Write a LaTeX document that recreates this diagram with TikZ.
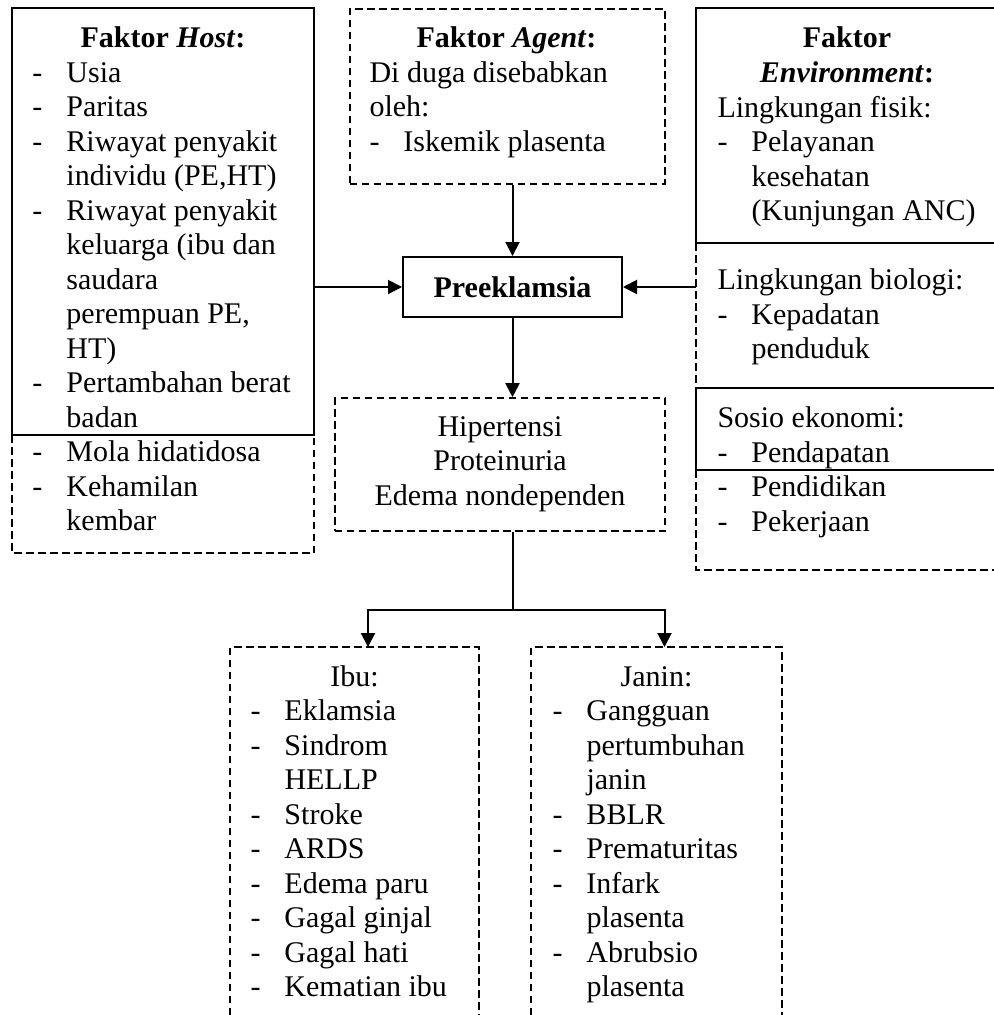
\documentclass[tikz,border=0pt]{standalone}
\usepackage{fontspec}
\setmainfont{Liberation Serif}
\usetikzlibrary{arrows.meta,positioning,calc}

\newcommand{\dsh}{\makebox[13.6pt][l]{-}}
\newcommand{\ind}{\hspace*{13.6pt}}

\tikzset{
  every node/.style={font=\fontsize{12}{13.8}\selectfont},
  zone/.style={rectangle,inner sep=0pt,draw=none,anchor=north west},
  sline/.style={line width=0.8pt},
  dline/.style={line width=0.65pt,dash pattern=on 3pt off 1.8pt},
  sbox/.style={rectangle,inner sep=0pt,draw,sline},
  dbox/.style={rectangle,inner sep=0pt,draw,dline},
  % multi-line texts sit on the baseline of their last line
  txt/.style={inner sep=0pt,anchor=base west,align=left},
  hd/.style={inner sep=0pt,anchor=base,align=center},
  arr/.style={sline,-{Triangle[length=5.6pt,width=5.6pt]}}
}

\begin{document}
\begin{tikzpicture}[x=0.4pt,y=-0.4pt]
  \useasboundingbox (0,0) rectangle (994,1015);
  % Host
  \node[zone,minimum width=120.8pt,minimum height=218pt] (host) at (12,8) {};
  \draw[sline] (12,8) rectangle (314,435);
  \draw[dline] (12,435) |- (314,553) -- (314,435);
  \node[hd] (hosthd) at (163,47.5) {\textbf{Faktor \textit{Host}:}};
  \node[txt] (hostbd) at (32,530.5) {\dsh Usia\\ \dsh Paritas\\ \dsh Riwayat penyakit\\
    \ind individu (PE,HT)\\ \dsh Riwayat penyakit\\ \ind keluarga (ibu dan\\
    \ind saudara\\ \ind perempuan PE,\\ \ind HT)\\ \dsh Pertambahan berat\\
    \ind badan\\ \dsh Mola hidatidosa\\ \dsh Kehamilan\\ \ind kembar};
  % Agent
  \node[dbox,zone,draw,minimum width=126pt,minimum height=70pt] (agent) at (349,8) {};
  \node[hd] (agenthd) at (506.5,47.5) {\textbf{Faktor \textit{Agent}:}};
  \node[txt] (agentbd) at (369,151) {Di duga disebabkan\\ oleh:\\ \dsh Iskemik plasenta};
  % Environment
  \node[zone,minimum width=119.2pt,minimum height=224.8pt] (env) at (696,8) {};
  \draw[sline] (994,8) -- (696,8) -- (696,243) -- (994,243);
  \draw[dline] (696,243) -- (696,388);
  \draw[sline] (994,388) -- (696,388) -- (696,470) -- (994,470);
  \draw[dline] (696,470) -- (696,570) -- (994,570);
  \node[hd] (envhd) at (847,82) {\textbf{Faktor}\\ \textbf{\textit{Environment}:}};
  \node[txt] (envfis) at (717,220.5) {Lingkungan fisik:\\ \dsh Pelayanan\\ \ind kesehatan\\ \ind (Kunjungan ANC)};
  \node[txt] (envbio) at (717,358.5) {Lingkungan biologi:\\ \dsh Kepadatan\\ \ind penduduk};
  \node[txt] (envsos) at (717,531) {Sosio ekonomi:\\ \dsh Pendapatan\\ \dsh Pendidikan\\ \dsh Pekerjaan};
  % Preeklamsia and signs
  \node[sbox,minimum width=87.6pt,minimum height=24pt] (pre) at (512.5,287) {\textbf{Preeklamsia}};
  \node[dbox,minimum width=132pt,minimum height=53.2pt] (hip) at (500,464.5) {};
  \node[hd] (hiptx) at (500,505) {Hipertensi\\ Proteinuria\\ Edema nondependen};
  % Ibu and Janin
  \node[zone,minimum width=99.6pt,minimum height=147.2pt] (ibu) at (230,647) {};
  \draw[dline] (230,1015) -- (230,647) -- (479,647) -- (479,1015);
  \node[hd] (ibuhd) at (354.5,686) {Ibu:};
  \node[txt] (ibubd) at (250,996.5) {\dsh Eklamsia\\ \dsh Sindrom\\ \ind HELLP\\ \dsh Stroke\\
    \dsh ARDS\\ \dsh Edema paru\\ \dsh Gagal ginjal\\ \dsh Gagal hati\\ \dsh Kematian ibu};
  \node[zone,minimum width=100.4pt,minimum height=147.2pt] (janin) at (531,647) {};
  \draw[dline] (531,1015) -- (531,647) -- (782,647) -- (782,1015);
  \node[hd] (janinhd) at (656.5,686) {Janin:};
  \node[txt] (janinbd) at (552,996.5) {\dsh Gangguan\\ \ind pertumbuhan\\ \ind janin\\ \dsh BBLR\\
    \dsh Prematuritas\\ \dsh Infark\\ \ind plasenta\\ \dsh Abrubsio\\ \ind plasenta};
  % Arrows
  \draw[arr] (agent.south -| pre.north) -- (pre.north);
  \draw[arr] (pre.west -| host.east) -- (pre.west);
  \draw[arr] (pre.east -| env.west) -- (pre.east);
  \draw[arr] (pre.south) -- (hip.north -| pre.south);
  \draw[sline] (hip.south -| pre.south) -- ++(0,78) coordinate (bus);
  \draw[arr] (bus) -| ([xshift=5.2pt]ibu.north);
  \draw[arr] (bus) -| ([xshift=3pt]janin.north);
\end{tikzpicture}
\end{document}
